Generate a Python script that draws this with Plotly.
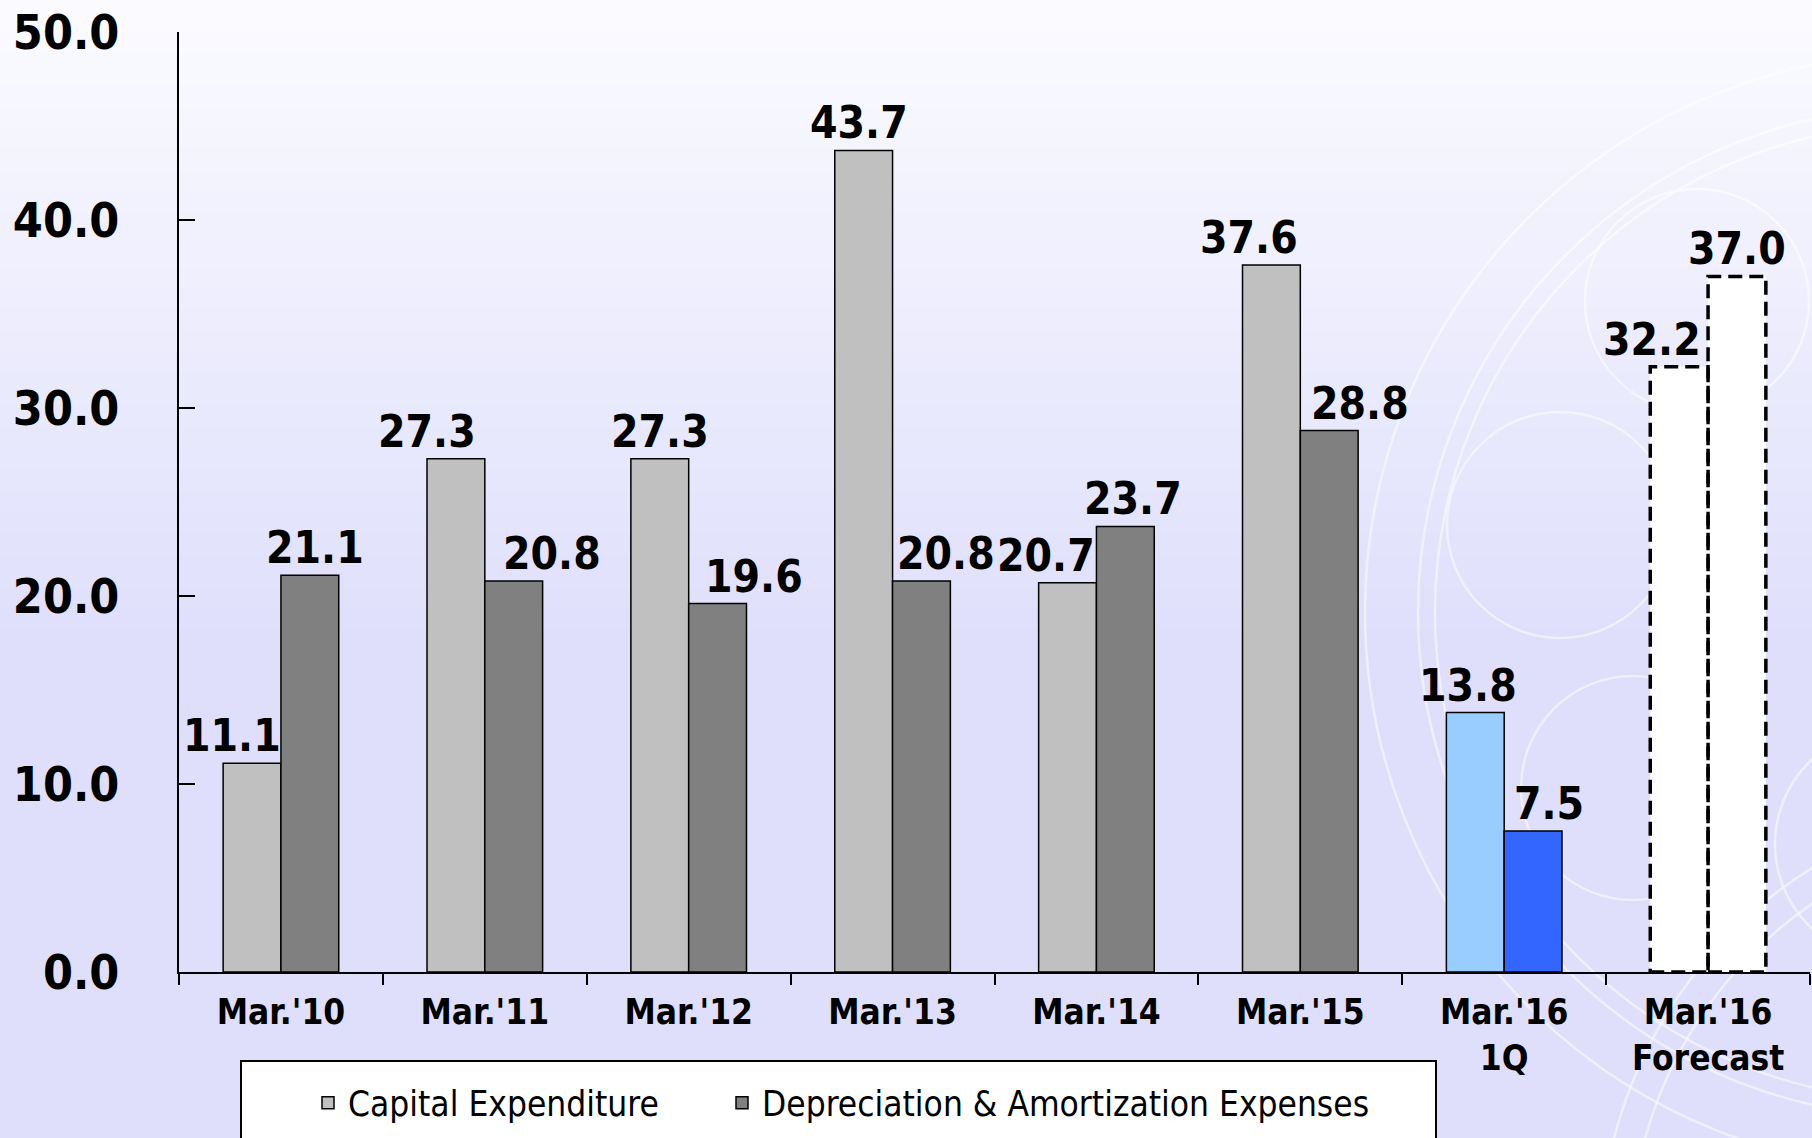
import plotly.graph_objects as go

# ---- data ----
categories = ["Mar.'10", "Mar.'11", "Mar.'12", "Mar.'13", "Mar.'14", "Mar.'15",
              "Mar.'16<br>1Q", "Mar.'16<br>Forecast"]
capex = [11.1, 27.3, 27.3, 43.7, 20.7, 37.6, 13.8, 32.2]
depreciation = [21.1, 20.8, 19.6, 20.8, 23.7, 28.8, 7.5, 37.0]
y_ticks = [0, 10, 20, 30, 40, 50]

# ---- styling ----
W, H = 1812, 1138
L, R, T, B = 179, 2, 32, 166
PW, PH = W - L - R, H - T - B
capex_colors = ["#C0C0C0"] * 6 + ["#99CCFF"]
dep_colors = ["#808080"] * 6 + ["#3366FF"]
capex_label_dx = [-20, -29, 0, -5, -22, -22, -7, -27]
dep_label_dx = [5, 38, 36, 25, 8, 31, 16, 0]
FONT = "DejaVu Sans Condensed, DejaVu Sans"
BARGAP = 0.433
BW = (1 - BARGAP) / 2          # width of one bar in category units
BAR_HALF = BW / 2 * PW / len(categories)


def xp(px):
    return (px - L) / PW


def yp(py):
    return (H - B - py) / PH


fig = go.Figure()
n_act = 7
fig.add_trace(go.Bar(
    x=categories[:n_act], y=capex[:n_act], name="Capital Expenditure",
    offsetgroup="a", legend="legend",
    marker=dict(color=capex_colors, line=dict(color="black", width=1.5)),
))
fig.add_trace(go.Bar(
    x=categories[:n_act], y=depreciation[:n_act], name="Depreciation & Amortization Expenses",
    offsetgroup="b", legend="legend2",
    marker=dict(color=dep_colors, line=dict(color="black", width=1.5)),
))
fig.add_trace(go.Bar(
    x=categories[n_act:], y=capex[n_act:], showlegend=False, offsetgroup="a",
    marker=dict(color="white", line=dict(width=0)),
))
fig.add_trace(go.Bar(
    x=categories[n_act:], y=depreciation[n_act:], showlegend=False, offsetgroup="b",
    marker=dict(color="white", line=dict(width=0)),
))

annotations = []
for i, c in enumerate(categories):
    for vals, sign, dx in ((capex, -1, capex_label_dx), (depreciation, 1, dep_label_dx)):
        annotations.append(dict(
            x=c, y=vals[i], xref="x", yref="y", text=f"<b>{vals[i]:.1f}</b>",
            showarrow=False, yanchor="bottom", xanchor="center",
            xshift=sign * BAR_HALF + dx[i], yshift=0,
            font=dict(family=FONT, size=44, color="black"),
        ))

shapes = []
# background gradient
top = (251, 251, 255)
bot = (223, 223, 252)
nb = 60
grad_end = 640
for k in range(nb):
    y0 = grad_end * k / nb
    y1 = grad_end * (k + 1) / nb
    t = (k + 0.5) / nb
    col = tuple(round(top[j] + (bot[j] - top[j]) * t) for j in range(3))
    shapes.append(dict(type="rect", xref="paper", yref="paper", layer="below",
                       x0=xp(0), x1=xp(W), y0=yp(y1 + 0.5), y1=yp(y0),
                       fillcolor=f"rgb{col}", line=dict(width=0)))
shapes.append(dict(type="rect", xref="paper", yref="paper", layer="below",
                   x0=xp(0), x1=xp(W), y0=yp(H), y1=yp(grad_end),
                   fillcolor=f"rgb{bot}", line=dict(width=0)))
# decorative circles
circles = [(1923, 612, 558), (1923, 612, 505), (1923, 612, 488),
           (1697, 301, 112), (1560, 525, 113), (1633, 788, 112), (1890, 844, 115),
           (2050, 1250, 450), (2050, 1250, 420)]
for cx, cy, r in circles:
    shapes.append(dict(type="circle", xref="paper", yref="paper", layer="below",
                       x0=xp(cx - r), x1=xp(cx + r), y0=yp(cy + r), y1=yp(cy - r),
                       line=dict(color="rgba(255,255,255,0.5)", width=2.5)))
# dashed outlines of forecast bars (category index coordinates)
for i in range(n_act, len(categories)):
    for vals, x0 in ((capex, i - BW), (depreciation, i)):
        shapes.append(dict(type="rect", xref="x", yref="y", layer="above",
                           x0=x0, x1=x0 + BW, y0=0, y1=vals[i],
                           line=dict(color="black", width=3.5, dash="14px,7px")))
# legend box
shapes.append(dict(type="rect", xref="paper", yref="paper", layer="above",
                   x0=xp(241), x1=xp(1436), y0=yp(1150), y1=yp(1061),
                   fillcolor="white", line=dict(color="black", width=2)))

legend_common = dict(orientation="h", yanchor="middle", xanchor="left",
                     bgcolor="rgba(0,0,0,0)", borderwidth=0,
                     font=dict(family=FONT, size=35, color="black"))

fig.update_layout(
    width=W, height=H,
    margin=dict(l=L, r=R, t=T, b=B, autoexpand=False),
    paper_bgcolor="rgb(223,223,252)", plot_bgcolor="rgba(0,0,0,0)",
    barmode="group", bargap=BARGAP, bargroupgap=0,
    shapes=shapes, annotations=annotations,
    showlegend=True,
    legend=dict(x=xp(308), y=yp(1103), **legend_common),
    legend2=dict(x=xp(722), y=yp(1103), **legend_common),
    xaxis=dict(type="category", range=[-0.5, len(categories) - 0.5],
               showline=True, linecolor="black", linewidth=2,
               ticks="outside", ticklen=11, tickwidth=2, tickcolor="black",
               tickson="boundaries", showgrid=False, zeroline=False,
               ticklabelstandoff=8,
               tickfont=dict(family=FONT, size=35, color="black", weight="bold")),
    yaxis=dict(range=[0, 50], tickvals=y_ticks, tickformat=".1f",
               showline=True, linecolor="black", linewidth=2,
               ticks="inside", ticklen=16, tickwidth=2, tickcolor="black",
               showgrid=False, zeroline=False, ticklabelstandoff=48,
               ticklabeloverflow="allow",
               tickfont=dict(family=FONT, size=48, color="black", weight="bold")),
)

fig.write_html("out.html", config={"displayModeBar": False},
               post_script="document.body.style.margin='0px';")
